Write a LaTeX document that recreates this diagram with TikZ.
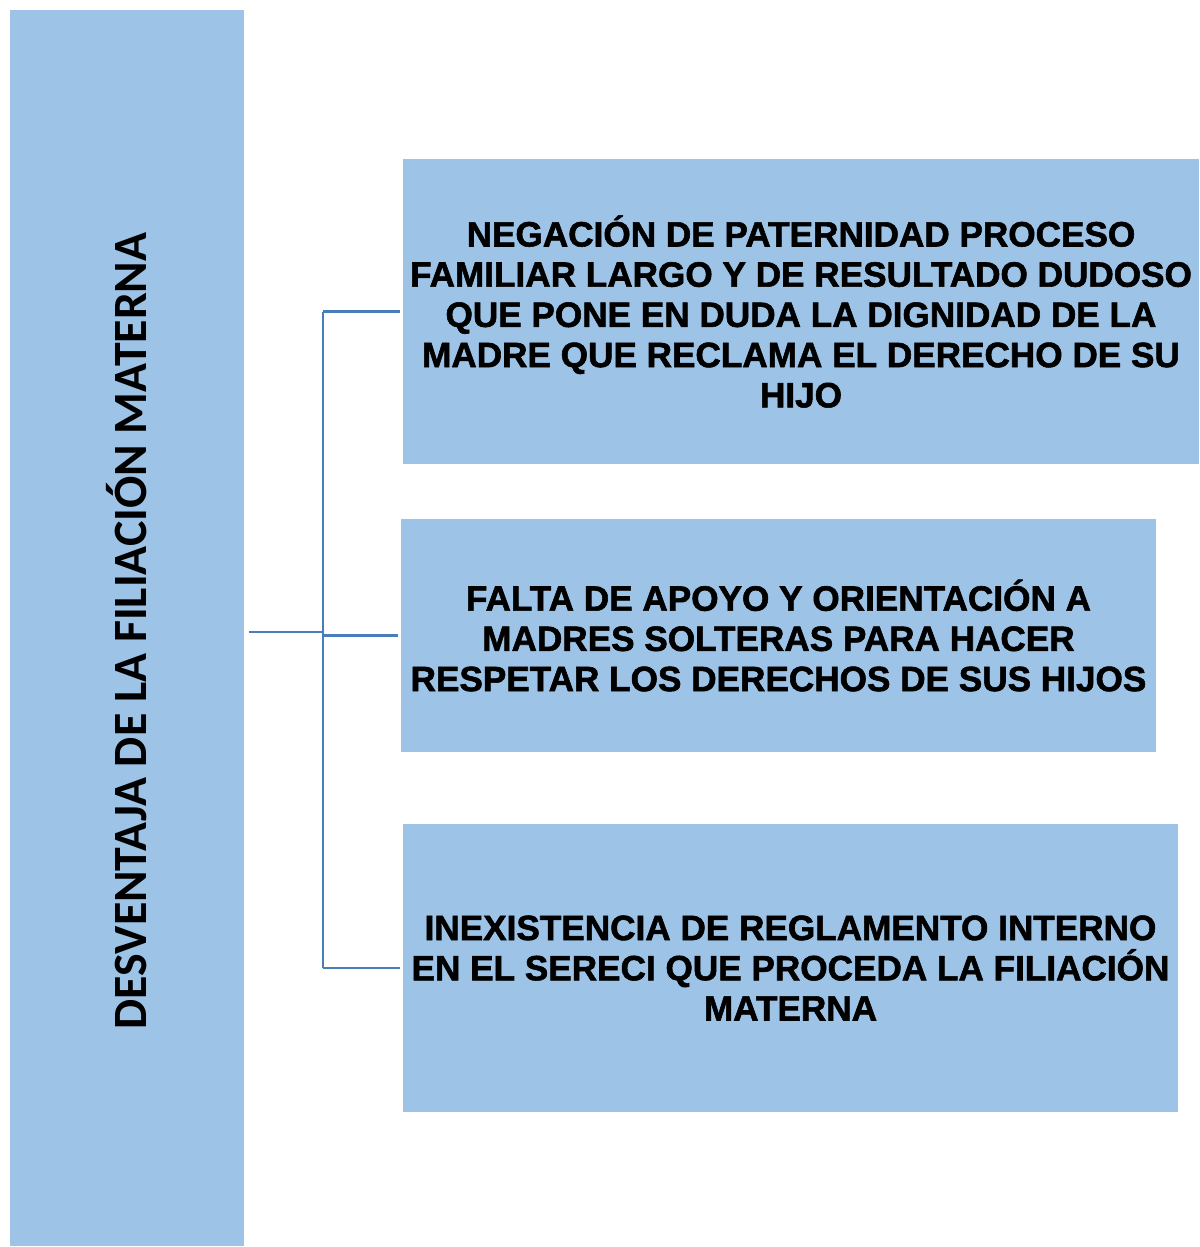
\documentclass[tikz,border=0pt]{standalone}
\usepackage{fontspec}
\setmainfont{Liberation Sans}
\newfontfamily\heavy[BoldFont={Liberation Sans Bold}, BoldFeatures={FakeBold=1.6}]{Liberation Sans}
\newfontfamily\calib{Carlito}
\usetikzlibrary{positioning}
\definecolor{boxblue}{HTML}{9DC3E6}
\definecolor{linkblue}{HTML}{4A7EBB}

\begin{document}
\begin{tikzpicture}[x=0.025cm, y=-0.025cm,
    box/.style={fill=boxblue, inner sep=0pt, align=center, font=\heavy\bfseries\fontsize{25}{28.6}\selectfont},
    link/.style={draw=linkblue, line width=1.5pt}]
    \useasboundingbox (0,0) rectangle (1199,1247);
    \node [fill=boxblue, minimum width=5.85cm, minimum height=30.9cm, inner sep=0pt] (main) at (127,628) {};
    \node [rotate=90, font=\calib\bfseries\fontsize{34}{40}\selectfont] (title) at (127,631) {DESVENTAJA DE LA FILIACIÓN MATERNA};
    \node [box, minimum width=19.9cm, minimum height=7.625cm] (neg) at (801,311.5)
        {NEGACIÓN DE PATERNIDAD PROCESO\\ FAMILIAR LARGO Y DE RESULTADO DUDOSO\\ QUE PONE EN DUDA LA DIGNIDAD DE LA\\ MADRE QUE RECLAMA EL DERECHO DE SU\\ HIJO};
    \node [box, minimum width=18.875cm, minimum height=5.825cm] (apoyo) at (778.5,635.5)
        {FALTA DE APOYO Y ORIENTACIÓN A\\ MADRES SOLTERAS PARA HACER\\ RESPETAR LOS DERECHOS DE SUS HIJOS};
    \node [box, minimum width=19.375cm, minimum height=7.2cm] (regla) at (790.5,968)
        {INEXISTENCIA DE REGLAMENTO INTERNO\\ EN EL SERECI QUE PROCEDA LA FILIACIÓN\\ MATERNA};
    \coordinate (trunk) at (323,632);
    \path [link] ([xshift=3pt]main.east |- trunk) -- (trunk);
    \path [link] (trunk |- neg.west) -- (trunk |- regla.west);
    \path [link] (trunk |- neg.west) -- ([xshift=-2pt]neg.west);
    \path [link] (trunk |- apoyo.west) -- ([xshift=-2pt]apoyo.west);
    \path [link] (trunk |- regla.west) -- ([xshift=-2pt]regla.west);
\end{tikzpicture}
\end{document}
